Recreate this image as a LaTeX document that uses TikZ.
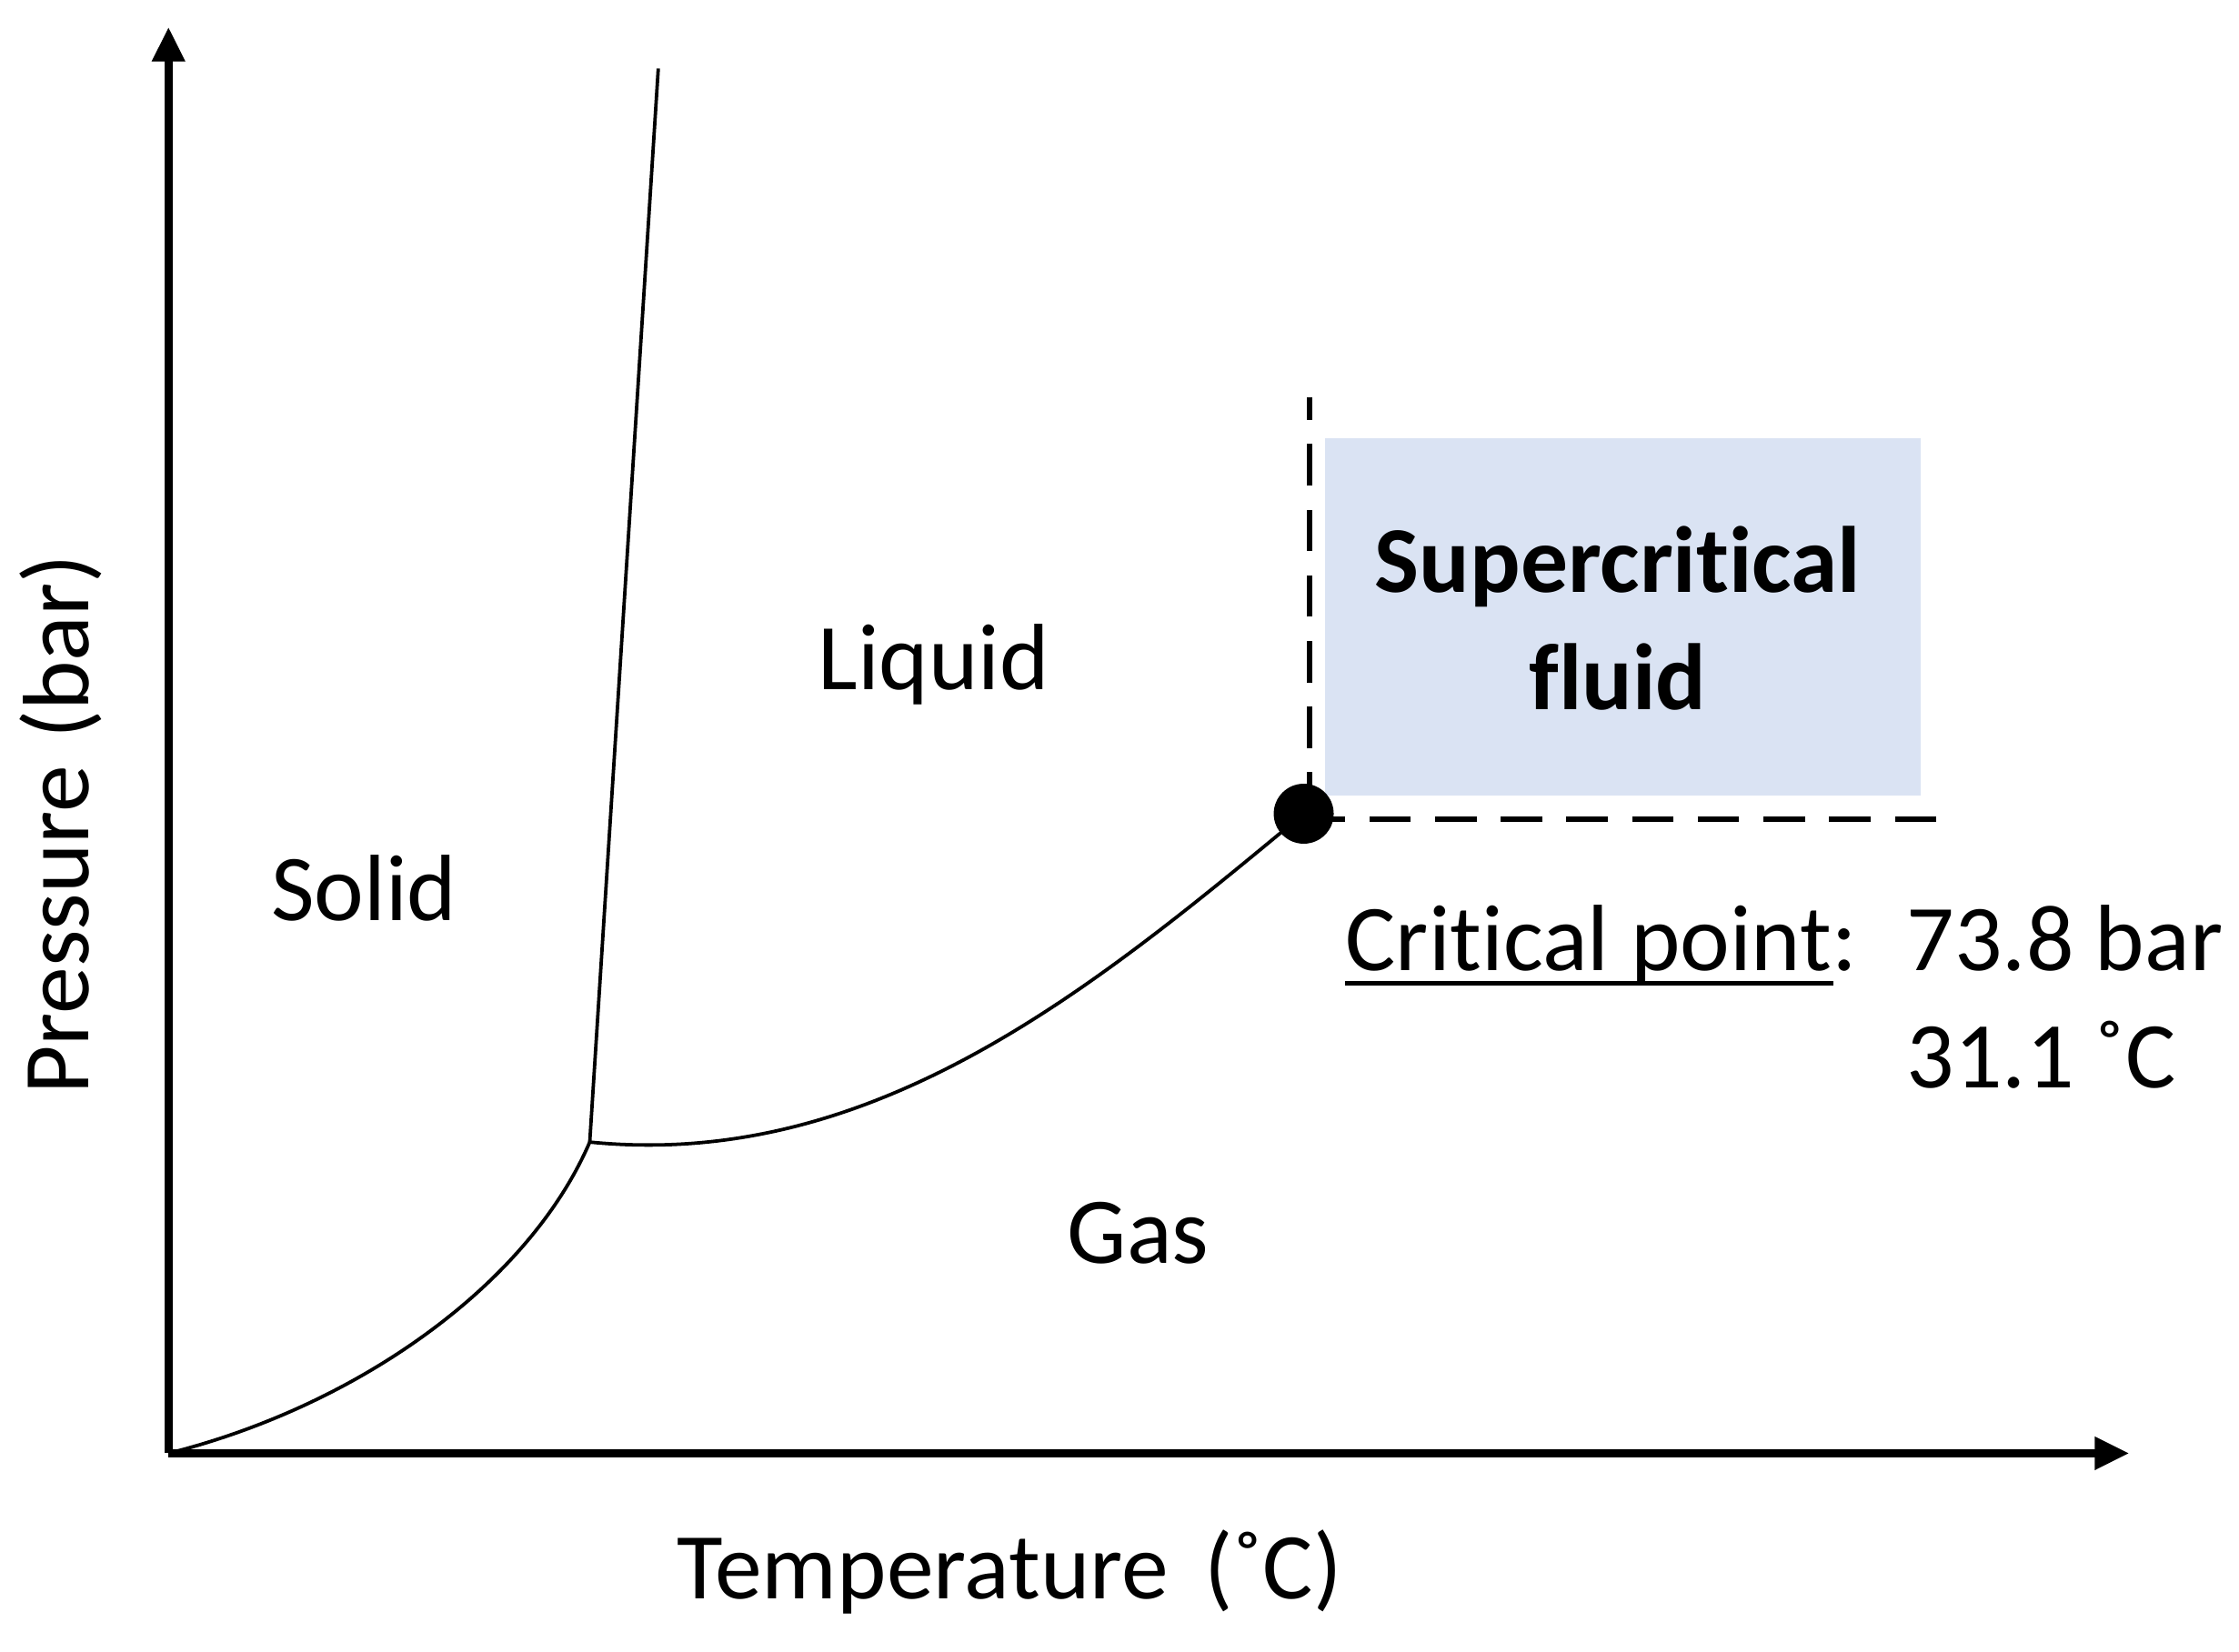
\documentclass[tikz,border=0pt]{standalone}
\usepackage{fontspec}
\setmainfont[Ligatures=NoCommon]{Carlito}
\usetikzlibrary{arrows.meta}
\definecolor{scfblue}{HTML}{DAE3F3}
\begin{document}
\begin{tikzpicture}[x=0.5pt,y=-0.5pt,
  lbl/.style={font=\fontsize{33}{40}\selectfont, inner sep=0pt, anchor=base},
  bold lbl/.style={lbl, font=\fontsize{33}{40}\selectfont\bfseries},
  axis/.style={line width=2.7pt, -{Triangle[length=12pt,width=11pt]}},
  phase/.style={line width=1.2pt},
  critline/.style={line width=2pt, dash pattern=on 14.5pt off 8.5pt},
  critdot/.style={circle, fill=black, inner sep=0pt, minimum size=21pt}]
\useasboundingbox (0,0) rectangle (1568,1157);
% supercritical region
\fill[scfblue] (928,307) rectangle (1345,557);
% key points
\coordinate (O) at (118,1018);
\coordinate (ytip) at (118,19);
\coordinate (xtip) at (1491,1018);
\coordinate (TP) at (413,800);
\coordinate (melt) at (461,48);
\coordinate (vtop) at (917,278);
\coordinate (hend) at (1368,574);
\node[critdot] (CP) at (913,570) {};
% dashed boundaries
\draw[critline] (vtop |- CP.center) -- (vtop);
\draw[critline] (CP.center |- hend) -- (hend);
% axes
\draw[axis] (O) -- (ytip);
\draw[axis] (O) -- (xtip);
% phase boundaries
\draw[phase] (O) .. controls (250,985) and (370,900) .. (TP);
\draw[phase] (TP) -- (melt);
\draw[phase] (TP) .. controls (613,820) and (767,691) .. (CP.center);
% labels
\node[lbl] (liquid) at (654,483) {Liquid};
\node[lbl] (solid) at (255,645) {Solid};
\node[lbl] (gas) at (797,885) {Gas};
\node[bold lbl] (scf1) at (1133,415) {Supercritical};
\node[bold lbl] (scf2) at (1133,497) {fluid};
\node[lbl, anchor=base west] (cplabel) at (942,680) {Critical point:};
\draw[line width=1.5pt] (942,689) -- (1284,689);
\node[lbl, anchor=base west] (cpp) at (1335,680) {73.8 bar};
\node[lbl, anchor=base west] (cpt) at (1335,762) {31.1 ˚C};
\node[lbl, anchor=base west] (xlabel) at (474,1120) {Temperature\hspace{0.38em}(˚C)};
\node[lbl, anchor=base west, rotate=90] (ylabel) at (62,767) {Pressure\hspace{0.28em}(bar)};
\end{tikzpicture}
\end{document}
